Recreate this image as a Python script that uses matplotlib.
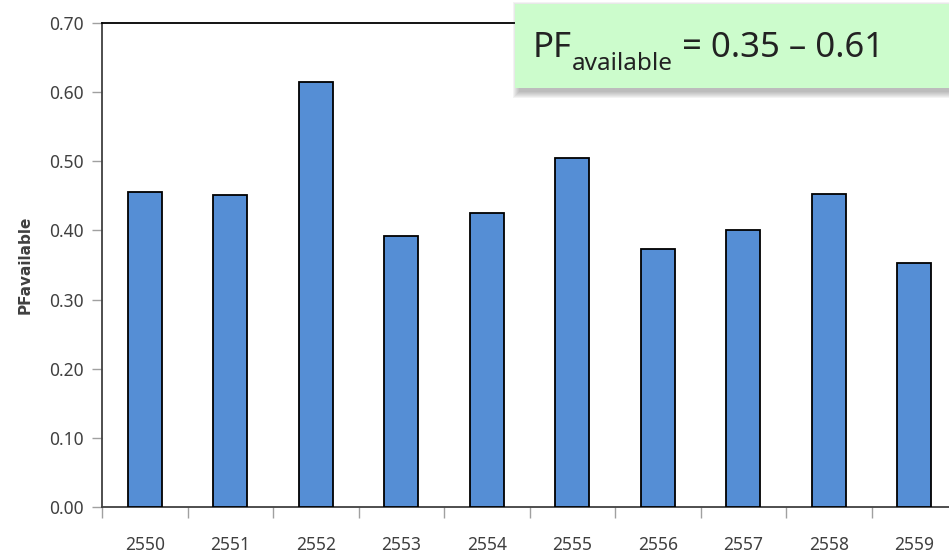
import matplotlib
matplotlib.use("Agg")
import numpy as np
import matplotlib.pyplot as plt
from matplotlib.patches import Rectangle

plt.rcParams["font.family"] = ["Noto Sans", "DejaVu Sans"]

years = ["2550", "2551", "2552", "2553", "2554",
         "2555", "2556", "2557", "2558", "2559"]
pf_available = [0.456, 0.451, 0.615, 0.392, 0.425,
                0.505, 0.373, 0.400, 0.453, 0.353]
y_ticks = [0.00, 0.10, 0.20, 0.30, 0.40, 0.50, 0.60, 0.70]

W, H = 949, 556
fig = plt.figure(figsize=(W / 100, H / 100), dpi=100)
ax = fig.add_axes([102 / W, 49 / H, 855 / W, 484 / H])

x = np.arange(len(years))
ax.bar(x, pf_available, width=0.40, color="#558ed5", edgecolor="black",
       linewidth=1.3, zorder=3)

ax.set_xlim(-0.5, len(years) - 0.5)
ax.set_ylim(0, 0.70)
ax.set_yticks(y_ticks)
ax.set_yticklabels([f"{v:.2f}" for v in y_ticks])

# labels at bar centres, tick marks between categories
ax.set_xticks(x)
ax.set_xticklabels(years)
ax.set_xticks(np.arange(len(years) + 1) - 0.5, minor=True)
ax.tick_params(axis="x", which="major", length=0, pad=21,
               labelsize=12.5, labelcolor="#404040")
ax.tick_params(axis="x", which="minor", length=8, width=1, color="#a0a0a0")
ax.tick_params(axis="y", length=7, width=1, color="#a0a0a0", pad=6,
               labelsize=12.5, labelcolor="#404040")

ax.spines["right"].set_visible(False)
ax.spines["top"].set_color("black")
ax.spines["top"].set_linewidth(1.3)
for side in ("left", "bottom"):
    ax.spines[side].set_color("#404040")
    ax.spines[side].set_linewidth(1.3)

fig.text(25 / W, 1 - 265 / H, "PFavailable", rotation=90, ha="center",
         va="center", fontsize=11, fontweight="bold", color="#404040",
         family="DejaVu Sans")

# range box in the upper right, with a soft drop shadow
bx, by, bw, bh = 515, 4, 450, 84
for i in range(7):
    grow = 6 - i
    fig.add_artist(Rectangle(((bx + 4 - grow) / W, 1 - (by + bh + 4 + grow) / H),
                             (bw + 2 * grow) / W, (bh + 2 * grow) / H,
                             transform=fig.transFigure, facecolor="#606060",
                             edgecolor="none", alpha=0.07, zorder=9))
fig.add_artist(Rectangle((bx / W, 1 - (by + bh) / H), bw / W, bh / H,
                         transform=fig.transFigure, facecolor="#ccfccc",
                         edgecolor="none", zorder=10))

box_text = dict(color="#222222", ha="left", va="baseline", zorder=11)
fig.text(533 / W, 1 - 57 / H, "PF", fontsize=25, **box_text)
fig.text(572 / W, 1 - 70 / H, "available", fontsize=17.5, **box_text)
fig.text(682 / W, 1 - 57 / H, "= 0.35 – 0.61", fontsize=25, **box_text)

fig.savefig("out.png", dpi=100)
